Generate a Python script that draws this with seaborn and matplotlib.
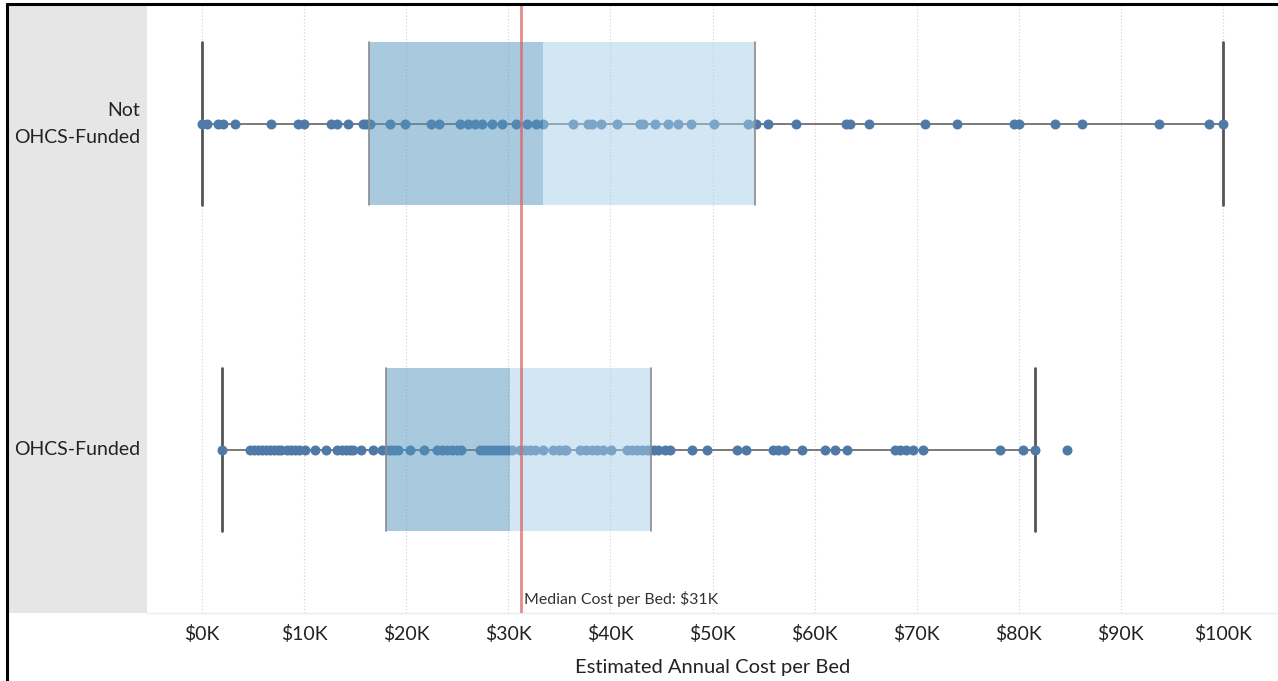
import matplotlib
matplotlib.use("Agg")
import matplotlib.pyplot as plt
from matplotlib.patches import Rectangle
from matplotlib.lines import Line2D
import numpy as np
import pandas as pd
import seaborn as sns

# Estimated annual cost per bed, in $K
not_funded = [0.0, 0.5, 1.6, 2.1, 3.2, 6.8, 9.4, 10.0, 12.6, 13.2, 14.3, 15.8, 16.1, 16.5,
              18.4, 19.9, 22.4, 23.2, 25.3, 26.1, 26.7, 27.4, 28.4, 29.4, 30.8, 31.8, 32.7,
              33.4, 36.3, 37.8, 38.2, 39.1, 40.6, 42.9, 43.2, 44.4, 45.6, 46.6, 47.9, 50.1,
              53.5, 54.3, 55.4, 58.2, 63.1, 63.5, 65.3, 70.8, 73.9, 79.5, 80.0, 83.5, 86.2,
              93.7, 98.6, 100.0]
funded = [2.0, 4.7, 5.1, 5.5, 5.9, 6.3, 6.7, 7.1, 7.4, 7.7, 8.3, 8.7, 9.1, 9.5, 10.1, 11.1,
          12.1, 13.2, 13.7, 14.1, 14.5, 14.8, 15.6, 16.7, 17.6, 18.0, 18.4, 18.8, 19.2, 20.4,
          21.7, 23.0, 23.5, 24.0, 24.5, 25.0, 25.4, 27.2, 27.6, 28.0, 28.4, 28.8, 29.2, 29.6,
          30.0, 30.4, 31.1, 31.6, 32.1, 32.6, 33.4, 34.4, 35.0, 35.5, 35.7, 37.0, 37.6, 38.2,
          38.7, 39.3, 40.1, 41.6, 42.1, 42.6, 43.1, 43.6, 43.9, 44.3, 44.7, 45.3, 45.8, 48.0,
          49.5, 52.4, 53.3, 55.9, 56.4, 57.1, 58.8, 61.0, 62.0, 63.2, 67.9, 68.4, 69.0, 69.6,
          70.6, 78.2, 80.4, 81.6, 84.7]

groups = ["Not\nOHCS-Funded", "OHCS-Funded"]

# Box-plot summary per group ($K)
q1 = [16.4, 18.0]
q2 = [33.4, 30.2]
q3 = [54.2, 44.0]
whisker_low = [0.0, 2.0]
whisker_high = [100.0, 81.6]

overall_median = 31.2
median_label = "Median Cost per Bed: $31K"

tick_values = list(range(0, 101, 10))
tick_labels = [f"${v}K" for v in tick_values]

df = pd.DataFrame({
    "cost": not_funded + funded,
    "group": [groups[0]] * len(not_funded) + [groups[1]] * len(funded),
})

sns.set_theme(style="white")
plt.rcParams["font.family"] = ["Lato", "DejaVu Sans"]

W, H = 1278, 681
fig = plt.figure(figsize=(W / 100, H / 100), dpi=100)
fig.patch.set_facecolor("white")

# header panel behind the row labels
fig.patches.append(Rectangle((8 / W, 1 - 613 / H), (147 - 8) / W, (613 - 5) / H,
                             transform=fig.transFigure, facecolor="#e6e6e6",
                             edgecolor="none", zorder=-10))
# outer frame (left and top)
fig.lines.append(Line2D([7 / W, 7 / W], [0, 1 - 4 / H], transform=fig.transFigure,
                        color="black", linewidth=2.2))
fig.lines.append(Line2D([7 / W, 1], [1 - 4 / H, 1 - 4 / H], transform=fig.transFigure,
                        color="black", linewidth=2.2))

ax = fig.add_axes([147 / W, 1 - 613 / H, (W - 147) / W, (613 - 5) / H])
ax.set_facecolor("none")
ax.set_zorder(1)

# points
sns.stripplot(data=df, x="cost", y="group", order=groups, orient="h", jitter=False,
              color="#4f7aa8", size=7.2, linewidth=0, ax=ax, zorder=3)

box_h = 0.5
for i in range(len(groups)):
    # whisker line
    ax.plot([whisker_low[i], whisker_high[i]], [i, i], color="#707070", lw=1.3, zorder=2)
    # whisker caps
    for w in (whisker_low[i], whisker_high[i]):
        ax.plot([w, w], [i - box_h / 2, i + box_h / 2], color="#555555", lw=2.0, zorder=2)

# box halves, drawn over the points
ax.barh(range(len(groups)), np.array(q2) - np.array(q1), left=q1, height=box_h,
        color=(83 / 255, 149 / 255, 191 / 255), alpha=0.5, zorder=4, linewidth=0)
ax.barh(range(len(groups)), np.array(q3) - np.array(q2), left=q2, height=box_h,
        color=(167 / 255, 207 / 255, 235 / 255), alpha=0.5, zorder=4, linewidth=0)
for i in range(len(groups)):
    for edge in (q1[i], q3[i]):
        ax.plot([edge, edge], [i - box_h / 2, i + box_h / 2], color="#8a8a8a", lw=1.2, zorder=5)

# overall median reference line
ax.axvline(overall_median, color="#dc6464", lw=2.0, alpha=0.75, zorder=6)
ax.text(overall_median + 0.35, 1.482, median_label, fontsize=11.4, color="#333333",
        ha="left", va="bottom", zorder=7)

x0 = -(202 - 147) / 10.21
x1 = (W - 202) / 10.21
ax.set_xlim(x0, x1)
ax.set_ylim(1.5, -0.365)

ax.set_xticks(tick_values)
ax.set_xticklabels(tick_labels)
ax.grid(axis="x", color="#cfcfcf", linestyle=(0, (1, 2)), linewidth=0.8)
ax.grid(axis="y", visible=False)
ax.set_axisbelow(True)

for side in ("top", "right", "left"):
    ax.spines[side].set_visible(False)
ax.spines["bottom"].set_color("#ebebeb")
ax.spines["bottom"].set_linewidth(1.0)

ax.tick_params(axis="x", length=0, pad=9, labelsize=14, labelcolor="#222222")
ax.tick_params(axis="y", length=0, pad=5, labelsize=14, labelcolor="#222222")
for lbl in ax.get_yticklabels():
    lbl.set_linespacing(1.75)
    lbl.set_verticalalignment("center")
ax.set_ylabel("")
ax.set_xlabel("Estimated Annual Cost per Bed", fontsize=14.5, color="#222222", labelpad=11)

fig.savefig("out.png", dpi=100)
